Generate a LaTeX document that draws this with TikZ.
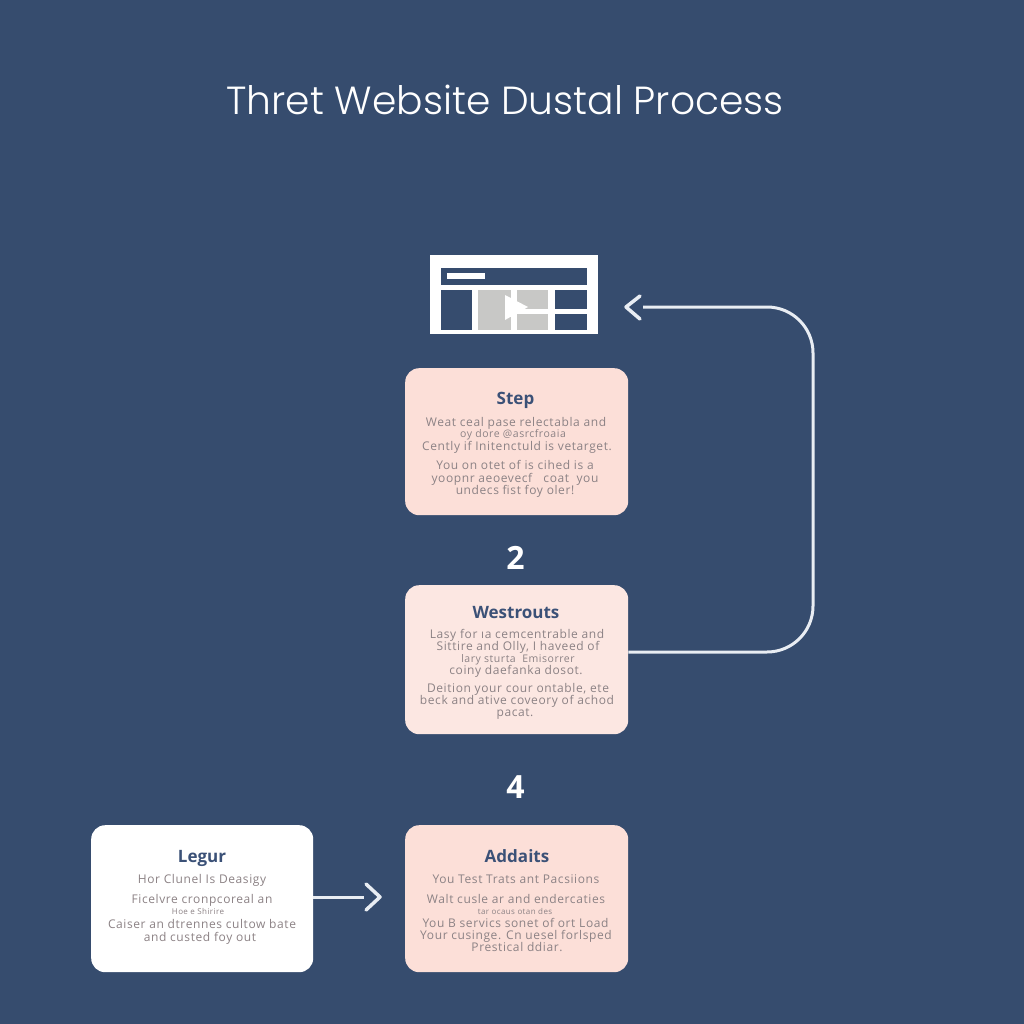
\documentclass[tikz,border=0pt]{standalone}
\usepackage{fontspec}
\setmainfont{Open Sans}
\newfontfamily\titlefont{Poppins}[UprightFont=* Light]
\newfontfamily\bodyfont{Open Sans}[LetterSpace=5]
\usetikzlibrary{arrows.meta}
\definecolor{bgnavy}{HTML}{364C6E}
\definecolor{headnavy}{HTML}{3B5177}
\definecolor{bodygray}{HTML}{8C8285}
\definecolor{cardpink}{HTML}{FCDFD8}
\definecolor{cardpale}{HTML}{FCE7E2}
\definecolor{linepale}{HTML}{E9EDF3}
\definecolor{iconfill}{HTML}{C8C8C6}
\tikzset{
  card/.style={rounded corners=14pt,minimum width=223pt,inner sep=0pt,anchor=north west},
  head/.style={font=\fontsize{17}{17}\selectfont\bfseries,text=headnavy,inner sep=0pt,anchor=base},
  bodyline/.style={font=\fontsize{12}{12}\selectfont\bodyfont,text=bodygray,inner sep=0pt,anchor=base},
  tinyline/.style={font=\fontsize{8}{8}\selectfont\bodyfont,text=bodygray,inner sep=0pt,anchor=base},
  smallline/.style={font=\fontsize{10.5}{10.5}\selectfont\bodyfont,text=bodygray,inner sep=0pt,anchor=base},
  stepnum/.style={font=\fontsize{32}{32}\selectfont\bfseries,text=white,inner sep=0pt},
  flow/.style={draw=linepale,line width=3pt,rounded corners=46pt},
  flowshort/.style={draw=linepale,line width=3pt},
  barb/.style={draw=linepale,line width=3.5pt,line cap=round,line join=round},
  iconblock/.style={inner sep=0pt,anchor=north west}
}
\begin{document}
\begin{tikzpicture}[x=1pt,y=-1pt]
\fill[bgnavy] (0,0) rectangle (1024,1024);
\useasboundingbox (0,0) rectangle (1024,1024);
\node[font=\fontsize{39.2}{39.2}\selectfont\titlefont,text=white,inner sep=0pt] (title) at (505,100) {Thret Website Dustal Process};
% icon
\node[fill=white,iconblock,minimum width=168pt,minimum height=79pt] (icon) at (430,255) {};
\node[fill=bgnavy,iconblock,minimum width=146pt,minimum height=17pt] (iconbar) at (441,268) {};
\node[fill=white,iconblock,minimum width=38pt,minimum height=6pt] (iconlabel) at (447,273) {};
\node[fill=bgnavy,iconblock,minimum width=31pt,minimum height=40pt] (iconleft) at (441,290) {};
\node[fill=iconfill,iconblock,minimum width=33pt,minimum height=40pt] (iconvid) at (478,290) {};
\node[fill=iconfill,iconblock,minimum width=31pt,minimum height=19pt] (iconvidb) at (517,290) {};
\node[fill=iconfill,iconblock,minimum width=31pt,minimum height=16pt] (iconvidc) at (517,314) {};
\node[fill=bgnavy,iconblock,minimum width=32pt,minimum height=19pt] (iconrta) at (555,290) {};
\node[fill=bgnavy,iconblock,minimum width=32pt,minimum height=16pt] (iconrtb) at (555,314) {};
\fill[white] (505,295) -- (528,307) -- (505,320) -- cycle;
% cards
\node[card,fill=cardpink,minimum height=147pt] (c1) at (405,368) {};
\node[card,fill=cardpale,minimum height=149pt] (c2) at (405,585) {};
\node[card,fill=cardpink,minimum height=147pt] (c3) at (405,825) {};
\node[card,fill=white,minimum width=222pt,minimum height=147pt] (c4) at (91,825) {};
% card 1
\node[head] (c1h) at (515.5,404.5) {Step};
\node[bodyline] (c1a) at (516,426.5) {Weat ceal pase relectabla and};
\node[smallline] (c1b) at (513,437) {oy dore @asrcfroaia};
\node[bodyline] (c1c) at (517,450) {Cently if Initenctuld is vetarget.};
\node[bodyline] (c1d) at (515,469) {You on otet of is cihed is a};
\node[bodyline] (c1e) at (515,482) {yoopnr aeoevecf \ \ coat \ you};
\node[bodyline] (c1f) at (515,494) {undecs fist foy oler!};
% number 2
\node[stepnum] (n2) at (515.5,558) {2};
% card 2
\node[head] (c2h) at (516,618) {Westrouts};
\node[bodyline] (c2a) at (517,638) {Lasy for ıa cemcentrable and};
\node[bodyline] (c2b) at (518,650) {Sittire and Olly, I haveed of};
\node[smallline] (c2c) at (518,662) {lary sturta \ Emisorrer};
\node[bodyline] (c2d) at (516,674) {coiny daefanka dosot.};
\node[bodyline] (c2e) at (518,692) {Deition your cour ontable, ete};
\node[bodyline] (c2f) at (517,704) {beck and ative coveory of achod};
\node[bodyline] (c2g) at (515,716) {pacat.};
% number 4
\node[stepnum] (n4) at (515.5,787) {4};
% card 3
\node[head] (c3h) at (517,862) {Addaits};
\node[bodyline] (c3a) at (516,883) {You Test Trats ant Pacsiions};
\node[bodyline] (c3b) at (516,903) {Walt cusle ar and endercaties};
\node[tinyline] (c3c) at (515,914) {tar ocaus otan des};
\node[bodyline] (c3d) at (515.5,927) {You B servics sonet of ort Load};
\node[bodyline] (c3e) at (516,939) {Your cusinge. Cn uesel forlsped};
\node[bodyline] (c3f) at (517,951) {Prestical ddiar.};
% card 4
\node[head] (c4h) at (202,862) {Legur};
\node[bodyline] (c4a) at (202,883) {Hor Clunel Is Deasigy};
\node[bodyline] (c4b) at (202,903) {Ficelvre cronpcoreal an};
\node[tinyline] (c4c) at (198,914) {Hoe e Shirire};
\node[bodyline] (c4d) at (202,928) {Caiser an dtrennes cultow bate};
\node[bodyline] (c4e) at (200,941) {and custed foy out};
% connectors
\coordinate (retrow) at (813,652);
\coordinate (retend) at (643,307);
\coordinate (retcorner) at (813,307);
\coordinate (rettip) at (626,307);
\draw[flow] (c2.east |- retrow) -- (retrow) -- (retcorner) -- (retend);
\draw[barb] (640,296) -- (rettip) -- (640,319);
\coordinate (nexttip) at (380,897);
\coordinate (nextrow) at (364,897);
\draw[flowshort] (c4.east |- nextrow) -- (nextrow);
\draw[barb] (366,884) -- (nexttip) -- (366,910);
\end{tikzpicture}
\end{document}
